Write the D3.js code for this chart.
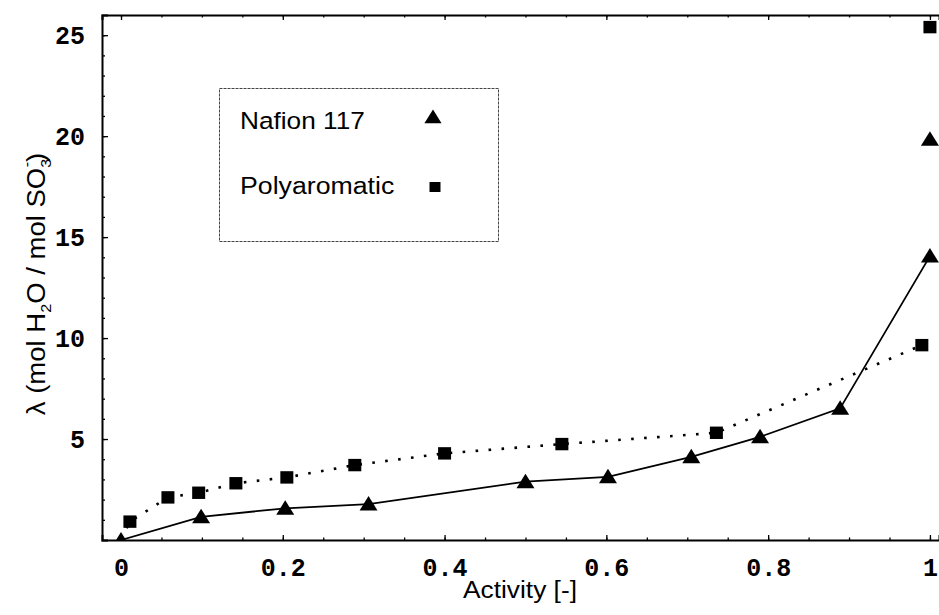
<!DOCTYPE html>
<html>
<head>
<meta charset="utf-8">
<script src="https://cdn.jsdelivr.net/npm/d3@7"></script>
<style>
  html, body { margin: 0; padding: 0; background: #fff; }
  svg { display: block; }
  .tick text { font-family: "Liberation Mono", "DejaVu Sans Mono", monospace; font-weight: bold; }
</style>
</head>
<body>
<svg id="chart" width="939" height="615"></svg>
<script>
// ---- data ----
const nafionActivity = [0, 0.099, 0.203, 0.306, 0.50, 0.602, 0.705, 0.79, 0.889, 1.0, 1.0];
const nafionLambda   = [0, 1.15, 1.57, 1.78, 2.89, 3.13, 4.12, 5.11, 6.52, 14.06, 19.85];
const nafionConnected = 10; // first N points joined by the solid line

const polyActivity = [0.011, 0.058, 0.096, 0.142, 0.205, 0.289, 0.40, 0.545, 0.736, 0.99, 1.0];
const polyLambda   = [0.91, 2.11, 2.34, 2.81, 3.10, 3.71, 4.29, 4.75, 5.31, 9.65, 25.4];
const polyConnected = 10; // first N points joined by the dotted line (line starts at origin)

const xTickValues = [0, 0.2, 0.4, 0.6, 0.8, 1];
const xTickLabels = ["0", "0.2", "0.4", "0.6", "0.8", "1"];
const yTickValues = [5, 10, 15, 20, 25];
const yTickLabels = ["5", "10", "15", "20", "25"];
const seriesNames = ["Nafion 117", "Polyaromatic"];

// ---- layout ----
const svg = d3.select("#chart");
const x = d3.scaleLinear().domain([-0.0235, 1.0112]).range([102, 939]);
const y = d3.scaleLinear().domain([0, 26]).range([540, 15]);

svg.append("defs").append("clipPath").attr("id", "plotclip")
  .append("rect").attr("x", 102).attr("y", 15).attr("width", 837).attr("height", 525);

const xMinor = d3.range(0, 1.0001, 0.05);
const yMinor = d3.range(1, 26, 1);

// bottom axis
const gx = svg.append("g").attr("transform", `translate(0,${y(0)})`)
  .call(d3.axisBottom(x).tickValues(xTickValues).tickSize(-5).tickPadding(18)
    .tickFormat((d, i) => xTickLabels[i]));
gx.selectAll(".tick text").attr("font-size", 25).attr("fill", "#000");
svg.append("g").attr("transform", `translate(0,${y(0)})`)
  .call(d3.axisBottom(x).tickValues(xMinor).tickSize(-2.5).tickFormat(""))
  .call(g => g.select(".domain").remove());

// top axis
svg.append("g").attr("transform", `translate(0,${y(26)})`)
  .call(d3.axisTop(x).tickValues(xTickValues).tickSize(-5).tickFormat(""));
svg.append("g").attr("transform", `translate(0,${y(26)})`)
  .call(d3.axisTop(x).tickValues(xMinor).tickSize(-2.5).tickFormat(""))
  .call(g => g.select(".domain").remove());

// left axis
const gy = svg.append("g").attr("transform", `translate(${x.range()[0]},0)`)
  .call(d3.axisLeft(y).tickValues(yTickValues).tickSize(-6).tickPadding(17)
    .tickFormat((d, i) => yTickLabels[i]));
gy.selectAll(".tick text").attr("font-size", 25).attr("fill", "#000");
svg.append("g").attr("transform", `translate(${x.range()[0]},0)`)
  .call(d3.axisLeft(y).tickValues(yMinor).tickSize(-3).tickFormat(""))
  .call(g => g.select(".domain").remove());

svg.selectAll(".domain").attr("stroke", "#000").attr("stroke-width", 2);
svg.selectAll(".tick line").attr("stroke", "#000").attr("stroke-width", 1.3);

// ---- series ----
const plot = svg.append("g").attr("clip-path", "url(#plotclip)");
const line = d3.line().x(d => x(d[0])).y(d => y(d[1]));

const nafionPts = nafionActivity.map((a, i) => [a, nafionLambda[i]]);
const polyPts = polyActivity.map((a, i) => [a, polyLambda[i]]);

plot.append("path")
  .attr("d", line(nafionPts.slice(0, nafionConnected)))
  .attr("fill", "none").attr("stroke", "#000").attr("stroke-width", 1.8);

plot.append("path")
  .attr("d", line([[0, 0]].concat(polyPts.slice(0, polyConnected))))
  .attr("fill", "none").attr("stroke", "#000").attr("stroke-width", 2.6)
  .attr("stroke-dasharray", "2.6,10.4");

const triPath = "M0,-8L9,6.5L-9,6.5Z";
plot.selectAll(".tri").data(nafionPts).join("path")
  .attr("class", "tri")
  .attr("transform", d => `translate(${x(d[0])},${y(d[1])})`)
  .attr("d", triPath).attr("fill", "#000");

plot.selectAll(".sq").data(polyPts).join("rect")
  .attr("class", "sq")
  .attr("x", d => x(d[0]) - 6.5).attr("y", d => y(d[1]) - 6.2)
  .attr("width", 13).attr("height", 12.4).attr("fill", "#000");

// ---- legend ----
const legend = svg.append("g");
legend.append("rect").attr("x", 219.5).attr("y", 88.5).attr("width", 279).attr("height", 153)
  .attr("fill", "none").attr("stroke", "#444").attr("stroke-width", 1).attr("stroke-dasharray", "3,1");

legend.append("text").attr("transform", "translate(240,129) scale(1.07,1)")
  .attr("font-family", "Liberation Sans, Arial, sans-serif").attr("font-size", 24.5)
  .text(seriesNames[0]);
legend.append("text").attr("transform", "translate(240,194) scale(1.09,1)")
  .attr("font-family", "Liberation Sans, Arial, sans-serif").attr("font-size", 24.5)
  .text(seriesNames[1]);
legend.append("path").attr("transform", "translate(433,117) scale(0.95)").attr("d", triPath).attr("fill", "#000");
legend.append("rect").attr("x", 429.5).attr("y", 182).attr("width", 11).attr("height", 10).attr("fill", "#000");

// ---- axis titles ----
svg.append("text").attr("transform", "translate(520,598) scale(1.12,1)")
  .attr("text-anchor", "middle")
  .attr("font-family", "Liberation Sans, Arial, sans-serif").attr("font-size", 23.5)
  .text("Activity [-]");

const yt = svg.append("text").attr("transform", "translate(45,284) rotate(-90) scale(1.08,1)")
  .attr("text-anchor", "middle")
  .attr("font-family", "Liberation Sans, Arial, sans-serif").attr("font-size", 25.5);
yt.append("tspan").text("λ (mol H");
yt.append("tspan").attr("font-size", 15).attr("dy", 6).text("2");
yt.append("tspan").attr("dy", -6).text("O / mol SO");
yt.append("tspan").attr("font-size", 15).attr("dy", 6).text("3");
yt.append("tspan").attr("font-size", 15).attr("dy", -19).attr("dx", -8).text("-");
yt.append("tspan").attr("dy", 13).text(")");
</script>
</body>
</html>
